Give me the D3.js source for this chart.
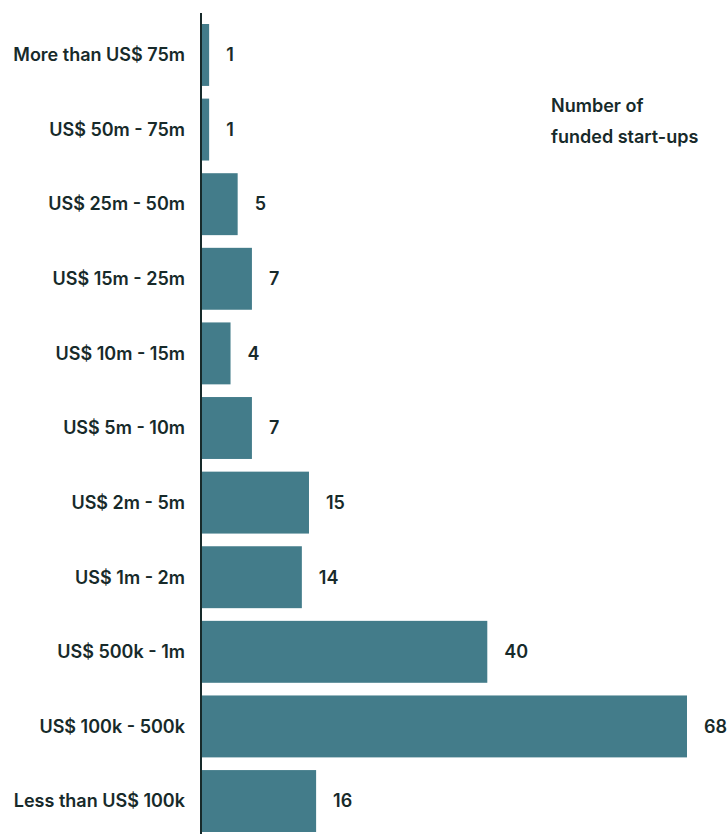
<!DOCTYPE html>
<html><head><meta charset="utf-8">
<script src="https://cdn.jsdelivr.net/npm/d3@7"></script>
<style>
html,body{margin:0;padding:0;background:#fff;}
text{font-family:Inter,Roboto,"Noto Sans",sans-serif;font-weight:600;fill:#172a2a;}
</style></head>
<body><svg id="chart" width="727" height="834"></svg>
<script>
const categories = ["More than US$ 75m","US$ 50m - 75m","US$ 25m - 50m","US$ 15m - 25m","US$ 10m - 15m","US$ 5m - 10m","US$ 2m - 5m","US$ 1m - 2m","US$ 500k - 1m","US$ 100k - 500k","Less than US$ 100k"];
const values = [1,1,5,7,4,7,15,14,40,68,16];
const titleLines = ["Number of","funded start-ups"];

const svg = d3.select("#chart");
const x = d3.scaleLinear().domain([0,68]).range([202,687]);
const y = d3.scaleBand().domain(categories).range([24,832]).paddingInner(0.17).paddingOuter(0);

svg.selectAll("rect.bar").data(values).join("rect")
  .attr("class","bar")
  .attr("x", x(0))
  .attr("y", (d,i)=>y(categories[i]))
  .attr("width", d=>x(d)-x(0))
  .attr("height", y.bandwidth())
  .attr("fill","#437c8a");

svg.append("line").attr("x1",201).attr("x2",201).attr("y1",13).attr("y2",834)
  .attr("stroke","#172a2a").attr("stroke-width",2);

svg.selectAll("text.cat").data(categories).join("text")
  .attr("class","cat")
  .attr("x",185)
  .attr("y",d=>y(d)+y.bandwidth()/2)
  .attr("dy","0.35em")
  .attr("text-anchor","end")
  .style("font-size","18px")
  .text(d=>d);

svg.selectAll("text.val").data(values).join("text")
  .attr("class","val")
  .attr("x",d=>x(d)+17)
  .attr("y",(d,i)=>y(categories[i])+y.bandwidth()/2)
  .attr("dy","0.35em")
  .style("font-size","18px")
  .text(d=>d);

svg.selectAll("text.title").data(titleLines).join("text")
  .attr("class","title")
  .attr("x",551)
  .attr("y",(d,i)=>112+i*31)
  .style("font-size","18px")
  .text(d=>d);
</script></body></html>
